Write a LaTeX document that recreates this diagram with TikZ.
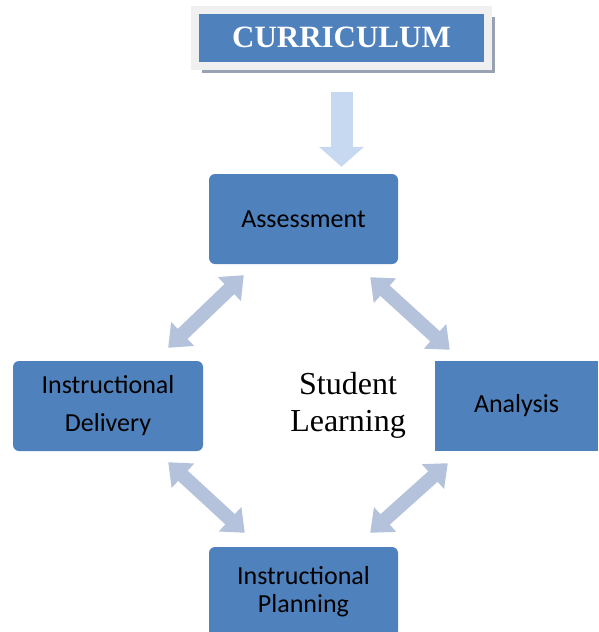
\documentclass[tikz,border=0pt]{standalone}
\usepackage{fontspec}
\setmainfont{Liberation Serif}
\newfontfamily\calibri{Carlito}
\usetikzlibrary{arrows.meta,shadows}

\definecolor{boxblue}{HTML}{4F81BD}
\definecolor{downblue}{HTML}{C6D9F1}
\definecolor{linkblue}{HTML}{B4C3DB}
\definecolor{framegray}{HTML}{F0F0F0}
\definecolor{shadowgray}{HTML}{98A2B3}

\tikzset{
  stage/.style={fill=boxblue, rounded corners=6pt, minimum width=189pt,
    minimum height=90pt, align=center, inner sep=0pt,
    font=\calibri\fontsize{26}{34}\selectfont},
  twoway/.style={draw=linkblue, line width=14pt,
    {Triangle[width=32pt,length=20pt]}-{Triangle[width=32pt,length=20pt]}},
  feed/.style={draw=downblue, line width=22pt, -{Triangle[width=44pt,length=20pt]}}
}

\begin{document}
\begin{tikzpicture}[x=1pt, y=-1pt]
  \useasboundingbox (0,0) rectangle (598,632);

  \node (curr) at (341.5,37.5) [fill=boxblue, draw=framegray, line width=8pt,
    minimum width=293pt, minimum height=56pt,
    drop shadow={shadow xshift=7pt, shadow yshift=-7pt, fill=shadowgray, opacity=1},
    text=white, font=\bfseries\fontsize{31}{34}\selectfont] {CURRICULUM};

  \node[stage] (assess) at (303.5,219) {Assessment};
  \node[stage, minimum width=190pt] (deliv) at (108,406) {Instructional\\[4pt]Delivery};
  \node[stage, rounded corners=0pt, minimum width=163pt] (anal) at (516.5,406) {Analysis};
  \node[stage] (plan) at (303.5,592) {Instructional\\[-6pt]Planning};

  \node (learn) at (348,405) [align=center, font=\fontsize{32}{37}\selectfont] {Student\\Learning};

  \coordinate (feedend) at (assess.north -| curr.south);
  \draw[feed] ([shift={(0,22)}]curr.south) -- ([shift={(0,-7)}]feedend);

  \draw[twoway] ([shift={(35,11)}]assess.south west) -- ([shift={(-35,-13)}]deliv.north east);
  \draw[twoway] ([shift={(-28,13)}]assess.south east) -- ([shift={(15,-11)}]anal.north west);
  \draw[twoway] ([shift={(-35,11)}]deliv.south east) -- ([shift={(36,-14)}]plan.north west);
  \draw[twoway] ([shift={(13,12)}]anal.south west) -- ([shift={(-28,-14)}]plan.north east);
\end{tikzpicture}
\end{document}
